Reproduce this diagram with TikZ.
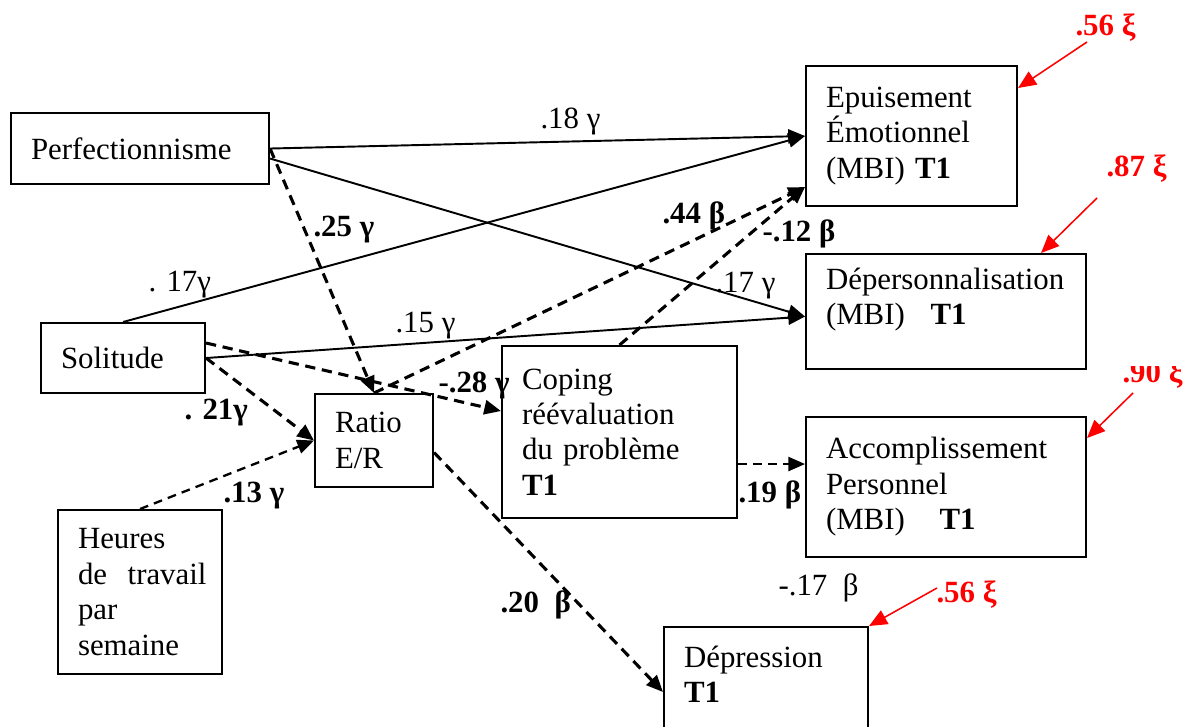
\documentclass[tikz,border=0pt]{standalone}
\usepackage{fontspec}
\setmainfont{Liberation Serif}
\usetikzlibrary{arrows.meta,positioning}
\newdimen\unitpx
\unitpx=0.389pt
\tikzset{
  box/.style={draw=black,line width=0.8pt,rectangle,align=left,anchor=north west,
    inner xsep=20\unitpx,inner ysep=1pt,font=\fontsize{12}{13.8}\selectfont},
  flow/.style={-{Triangle[length=6.5pt,width=5.5pt]},line width=0.75pt},
  dflow/.style={flow,line width=1.2pt,dash pattern=on 4pt off 2.6pt},
  tflow/.style={dflow,line width=0.9pt,dash pattern=on 3.4pt off 2.4pt},
  err/.style={-{Triangle[length=7pt,width=6pt]},line width=0.6pt,color=red},
  lbl/.style={anchor=base west,inner sep=0pt,font=\fontsize{12}{13.8}\selectfont},
  blbl/.style={lbl,font=\fontsize{12}{13.8}\selectfont\bfseries},
  rlbl/.style={blbl,text=red}
}
\begin{document}
\begin{tikzpicture}[x=\unitpx,y=-\unitpx]
  \useasboundingbox (0,0) rectangle (1186,727);
  % predictors
  \node[box,text width=218\unitpx,minimum height=71\unitpx] (perf) at (10,112) {Perfectionnisme};
  \node[box,text width=124\unitpx,minimum height=70\unitpx] (sol) at (40,322) {Solitude};
  \node[box,text width=124\unitpx,minimum height=164\unitpx] (heur) at (57,509)
    {Heures\\\mbox{de\ \ travail}\\par\\semaine};
  % mediators
  \node[box,text width=78\unitpx,minimum height=93\unitpx] (ratio) at (314,393) {Ratio\\E/R};
  \node[box,text width=195\unitpx,minimum height=172\unitpx] (cope) at (501,345)
    {Coping\\réévaluation\\du problème\\\textbf{T1}};
  % outcomes
  \node[box,text width=171\unitpx,minimum height=140\unitpx] (epui) at (805,65)
    {Epuisement\\Émotionnel\\(MBI) \textbf{T1}};
  \node[box,text width=240\unitpx,minimum height=115\unitpx] (deper) at (805,253)
    {Dépersonnalisation\\(MBI)\hspace{10pt}\textbf{T1}\\[-2pt]\mbox{}};
  \node[box,text width=240\unitpx,minimum height=140\unitpx] (accom) at (805,416)
    {Accomplissement\\Personnel\\(MBI)\hspace{13.5pt}\textbf{T1}};
  \node[box,text width=164\unitpx,minimum height=130\unitpx] (depre) at (663,626)
    {Dépression\\\textbf{T1}\\\mbox{}};
  % direct paths
  \draw[flow] (perf.east) -- (epui.west);
  \draw[flow] ([yshift=-10\unitpx]perf.east) -- ([yshift=-5\unitpx]deper.west);
  \draw[flow] (sol.north) -- (epui.west);
  \draw[flow] (sol.east) -- ([yshift=-5\unitpx]deper.west);
  % mediated paths
  \draw[dflow] (perf.east) -- (ratio.north);
  \draw[dflow] ([yshift=15\unitpx]sol.east) -- ([yshift=21\unitpx]cope.west);
  \draw[dflow] (sol.east) -- (ratio.west);
  \draw[tflow] (heur.north) -- (ratio.west);
  \draw[dflow] (ratio.north) -- ([yshift=20\unitpx]epui.south west);
  \draw[dflow] (cope.north) -- ([yshift=20\unitpx]epui.south west);
  \draw[dflow] ([yshift=-12\unitpx]ratio.east) -- (depre.west);
  \draw[tflow] ([yshift=-32\unitpx]cope.east) -- ([yshift=23\unitpx]accom.west);
  % coefficients
  \node[lbl] (g18) at (540,129) {.18 γ};
  \node[lbl] (g17a) at (715,293) {.17 γ};
  \node[lbl] (g17b) at (148,292) {. 17γ};
  \node[lbl] (g15) at (395,333) {.15 γ};
  \node[blbl] (g25) at (313,237) {.25 γ};
  \node[blbl] (g28) at (438,393) {-.28 γ};
  \node[blbl] (g21) at (184,420) {. 21γ};
  \node[blbl] (g13) at (223,502) {.13 γ};
  \node[blbl] (b44) at (662,224) {.44 β};
  \node[blbl] (b12) at (762,242) {-.12 β};
  \node[blbl] (b20) at (500,612) {.20\ \ β};
  \node[blbl] (b19) at (738,503) {.19 β};
  \node[lbl] (b17) at (778,595) {-.17\ \ β};
  % residuals
  \node[rlbl] (xi1) at (1075,36) {.56 ξ};
  \node[rlbl] (xi2) at (1106,177) {.87 ξ};
  \begin{scope}
    \clip (1100,367) rectangle (1186,400);
    \node[rlbl] (xi3) at (1122,383) {.90 ξ};
  \end{scope}
  \node[rlbl] (xi4) at (936,602) {.56 ξ};
  \draw[err] ([xshift=12\unitpx,yshift=-6\unitpx]xi1.base west) -- ([yshift=-23\unitpx]epui.north east);
  \draw[err] ([xshift=-9\unitpx,yshift=-21\unitpx]xi2.base west) -- ([xshift=-46\unitpx]deper.north east);
  \draw[err] ([xshift=11\unitpx,yshift=-10\unitpx]xi3.base west) -- ([yshift=-22\unitpx]accom.north east);
  \draw[err] ([xshift=1\unitpx,yshift=14\unitpx]xi4.base west) -- (depre.north east);
\end{tikzpicture}
\end{document}
